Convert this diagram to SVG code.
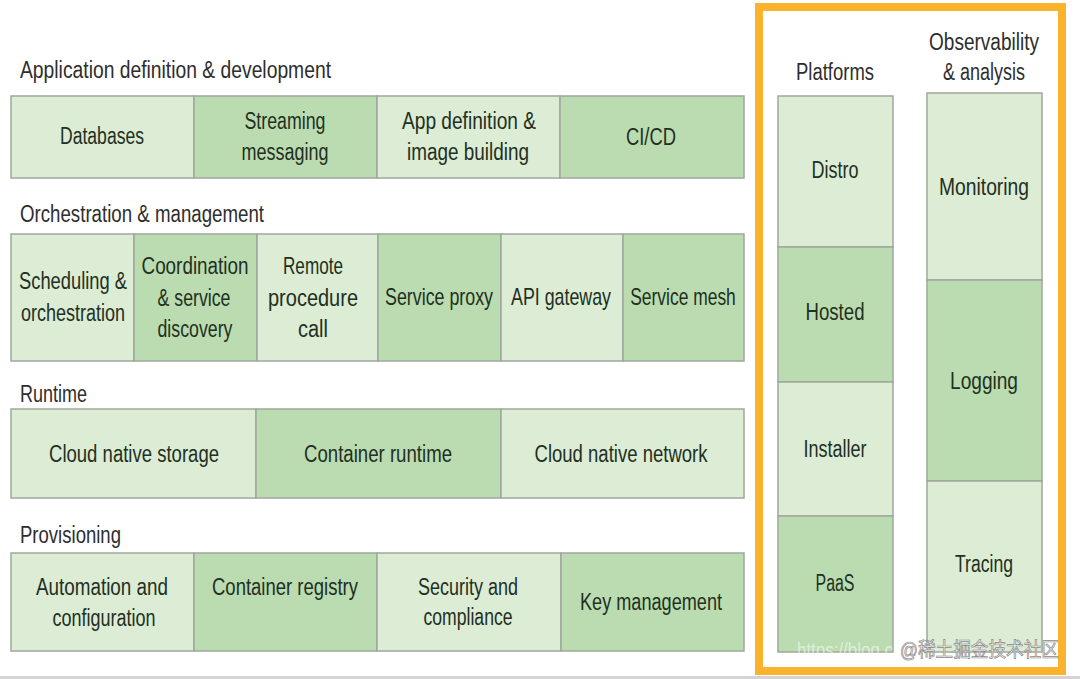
<svg xmlns="http://www.w3.org/2000/svg" width="1080" height="679" viewBox="0 0 1080 679">
<style>
.l{fill:#dcecd5;stroke:#9ea89c;stroke-width:1.5}
.d{fill:#badcb0;stroke:#9ea89c;stroke-width:1.5}
text{font-family:"Liberation Sans",Arial,sans-serif;font-size:23px}
.t{fill:#2e2e2e}
.c{fill:#223022;text-anchor:middle}
.h{fill:#2e2e2e;text-anchor:middle}
</style>
<rect width="1080" height="679" fill="#ffffff"/>
<rect x="0" y="676" width="1080" height="3" fill="#d4d4d4"/>

<g id="section-titles">
<text class="t" x="20" y="78" textLength="311" lengthAdjust="spacingAndGlyphs">Application definition &amp; development</text>
<text class="t" x="20" y="222" textLength="244" lengthAdjust="spacingAndGlyphs">Orchestration &amp; management</text>
<text class="t" x="20" y="402" textLength="67" lengthAdjust="spacingAndGlyphs">Runtime</text>
<text class="t" x="20" y="543" textLength="101" lengthAdjust="spacingAndGlyphs">Provisioning</text>
</g>

<g id="databases"><rect class="l" x="11" y="96" width="183" height="82"/>
<text class="c" x="102" y="144" textLength="84" lengthAdjust="spacingAndGlyphs">Databases</text></g>
<g id="streaming"><rect class="d" x="194" y="96" width="183" height="82"/>
<text class="c" x="285" y="129" textLength="81" lengthAdjust="spacingAndGlyphs">Streaming</text>
<text class="c" x="285" y="160" textLength="87" lengthAdjust="spacingAndGlyphs">messaging</text></g>
<g id="app-definition"><rect class="l" x="377" y="96" width="183" height="82"/>
<text class="c" x="469" y="129" textLength="134" lengthAdjust="spacingAndGlyphs">App definition &amp;</text>
<text class="c" x="468" y="160" textLength="122" lengthAdjust="spacingAndGlyphs">image building</text></g>
<g id="cicd"><rect class="d" x="560" y="96" width="184" height="82"/>
<text class="c" x="651" y="145" textLength="50" lengthAdjust="spacingAndGlyphs">CI/CD</text></g>

<g id="scheduling"><rect class="l" x="11" y="234" width="123" height="127"/>
<text class="c" x="73" y="289" textLength="108" lengthAdjust="spacingAndGlyphs">Scheduling &amp;</text>
<text class="c" x="73" y="321" textLength="104" lengthAdjust="spacingAndGlyphs">orchestration</text></g>
<g id="coordination"><rect class="d" x="134" y="234" width="123" height="127"/>
<text class="c" x="195" y="274" textLength="107" lengthAdjust="spacingAndGlyphs">Coordination</text>
<text class="c" x="194" y="306" textLength="73" lengthAdjust="spacingAndGlyphs">&amp; service</text>
<text class="c" x="195" y="337" textLength="75" lengthAdjust="spacingAndGlyphs">discovery</text></g>
<g id="rpc"><rect class="l" x="257" y="234" width="121" height="127"/>
<text class="c" x="313" y="274" textLength="60" lengthAdjust="spacingAndGlyphs">Remote</text>
<text class="c" x="313" y="306" textLength="90" lengthAdjust="spacingAndGlyphs">procedure</text>
<text class="c" x="313" y="337" textLength="30" lengthAdjust="spacingAndGlyphs">call</text></g>
<g id="service-proxy"><rect class="d" x="378" y="234" width="123" height="127"/>
<text class="c" transform="translate(439 305) scale(0.8 1)" textLength="135" lengthAdjust="spacingAndGlyphs">Service proxy</text></g>
<g id="api-gateway"><rect class="l" x="501" y="234" width="122" height="127"/>
<text class="c" transform="translate(561 305) scale(0.8 1)" textLength="125" lengthAdjust="spacingAndGlyphs">API gateway</text></g>
<g id="service-mesh"><rect class="d" x="623" y="234" width="121" height="127"/>
<text class="c" transform="translate(683 305) scale(0.8 1)" textLength="132" lengthAdjust="spacingAndGlyphs">Service mesh</text></g>

<g id="cloud-native-storage"><rect class="l" x="11" y="409" width="245" height="89"/>
<text class="c" x="134" y="462" textLength="170" lengthAdjust="spacingAndGlyphs">Cloud native storage</text></g>
<g id="container-runtime"><rect class="d" x="256" y="409" width="245" height="89"/>
<text class="c" x="378" y="462" textLength="148" lengthAdjust="spacingAndGlyphs">Container runtime</text></g>
<g id="cloud-native-network"><rect class="l" x="501" y="409" width="243" height="89"/>
<text class="c" x="621" y="462" textLength="173" lengthAdjust="spacingAndGlyphs">Cloud native network</text></g>

<g id="automation"><rect class="l" x="11" y="553" width="183" height="98"/>
<text class="c" x="102" y="595" textLength="132" lengthAdjust="spacingAndGlyphs">Automation and</text>
<text class="c" x="104" y="626" textLength="103" lengthAdjust="spacingAndGlyphs">configuration</text></g>
<g id="container-registry"><rect class="d" x="194" y="553" width="183" height="98"/>
<text class="c" x="285" y="595" textLength="146" lengthAdjust="spacingAndGlyphs">Container registry</text></g>
<g id="security"><rect class="l" x="377" y="553" width="184" height="98"/>
<text class="c" x="468" y="595" textLength="100" lengthAdjust="spacingAndGlyphs">Security and</text>
<text class="c" x="468" y="625" textLength="89" lengthAdjust="spacingAndGlyphs">compliance</text></g>
<g id="key-management"><rect class="d" x="561" y="553" width="183" height="98"/>
<text class="c" x="651" y="610" textLength="142" lengthAdjust="spacingAndGlyphs">Key management</text></g>

<g id="highlight-frame"><rect x="759" y="7" width="303" height="664" fill="none" stroke="#fbb22c" stroke-width="8"/></g>

<g id="column-titles">
<text class="h" x="835" y="80" textLength="78" lengthAdjust="spacingAndGlyphs">Platforms</text>
<text class="h" x="984" y="50" textLength="110" lengthAdjust="spacingAndGlyphs">Observability</text>
<text class="h" x="984" y="80" textLength="82" lengthAdjust="spacingAndGlyphs">&amp; analysis</text>
</g>

<g id="distro"><rect class="l" x="778" y="96" width="115" height="151"/>
<text class="c" x="835" y="178" textLength="47" lengthAdjust="spacingAndGlyphs">Distro</text></g>
<g id="hosted"><rect class="d" x="778" y="247" width="115" height="135"/>
<text class="c" x="835" y="320" textLength="59" lengthAdjust="spacingAndGlyphs">Hosted</text></g>
<g id="installer"><rect class="l" x="778" y="382" width="115" height="134"/>
<text class="c" x="835" y="457" textLength="63" lengthAdjust="spacingAndGlyphs">Installer</text></g>
<g id="paas"><rect class="d" x="778" y="516" width="115" height="136"/>
<text class="c" x="835" y="591" textLength="39" lengthAdjust="spacingAndGlyphs">PaaS</text></g>

<g id="monitoring"><rect class="l" x="927" y="93" width="115" height="187"/>
<text class="c" x="984" y="195" textLength="90" lengthAdjust="spacingAndGlyphs">Monitoring</text></g>
<g id="logging"><rect class="d" x="927" y="280" width="115" height="201"/>
<text class="c" x="984" y="389" textLength="68" lengthAdjust="spacingAndGlyphs">Logging</text></g>
<g id="tracing"><rect class="l" x="927" y="481" width="115" height="171"/>
<text class="c" x="984" y="572" textLength="58" lengthAdjust="spacingAndGlyphs">Tracing</text></g>

<g id="watermark">
<text x="797" y="657" style="font-size:20px" fill="#ffffff" fill-opacity="0.55" textLength="96" lengthAdjust="spacingAndGlyphs">https://blog.c</text>
<text x="900" y="657" style="font-family:'Liberation Sans','Noto Sans CJK SC',sans-serif;font-size:20px" fill="#eeeeee" stroke="#8a8a8a" stroke-width="0.7" textLength="159" lengthAdjust="spacingAndGlyphs">@稀土掘金技术社区</text>
</g>
</svg>
